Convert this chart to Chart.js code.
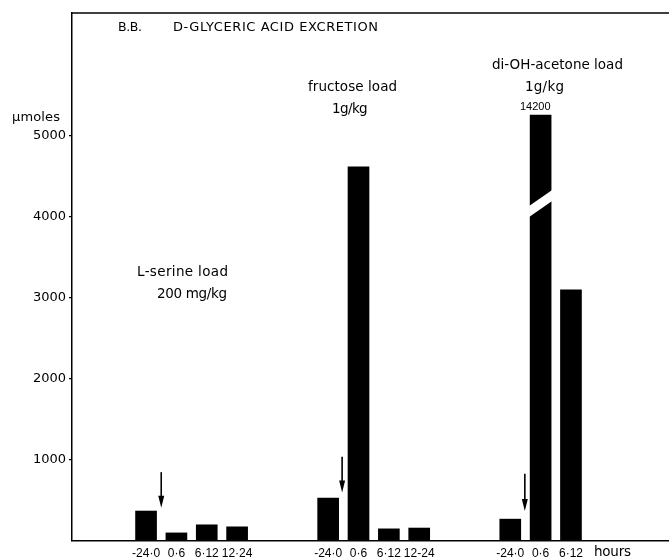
<!DOCTYPE html>
<html><head><meta charset="utf-8">
<script src="https://cdn.jsdelivr.net/npm/chart.js@4"></script>
<style>html,body{margin:0;padding:0;background:#fff}canvas{display:block}</style>
</head><body>
<canvas id="c" width="669" height="557"></canvas>
<script>
// ---- data ----
const periodLabels = ['-24·0','0·6','6·12','12·24','-24·0','0·6','6·12','12-24','-24·0','0·6','6·12'];
const slotPositions = [0,1,2,3,6,7,8,9,12,13,14];
const excretion = [370,100,200,175,530,4620,150,160,270,5260,3100];
const yTickValues = [1000,2000,3000,4000,5000];
const hoursLabel = 'hours';
const arrowSlots = [0.5,6.46,12.48];
const arrowTops = [850,1040,830];
const arrowTips = [410,600,370];
const brokenIndex = 9;
const brokenTrueValue = '14200';
const breakValue = 4100;

const FONT = '"DejaVu Sans", sans-serif';
const NUMFONT = '"Liberation Sans", sans-serif';

function fitText(ctx, txt, x, y, w, size, family) {
  ctx.font = size + 'px ' + (family || FONT);
  ctx.letterSpacing = '0px';
  const m = ctx.measureText(txt).width;
  let ls = (w - m) / Math.max(1, txt.length - 1);
  ls = Math.max(-0.6, Math.min(2.5, ls));
  ctx.letterSpacing = ls.toFixed(2) + 'px';
  ctx.textAlign = 'left';
  ctx.textBaseline = 'middle';
  ctx.fillStyle = '#000';
  ctx.fillText(txt, x, y);
  ctx.letterSpacing = '0px';
}

const decor = {
  id: 'decor',
  afterDatasetsDraw(chart) {
    const ctx = chart.ctx, xs = chart.scales.x, ys = chart.scales.y, ca = chart.chartArea;
    ctx.save();
    ctx.strokeStyle = '#000'; ctx.lineWidth = 1.5;
    ctx.beginPath(); ctx.moveTo(ca.left, ca.top); ctx.lineTo(ca.right, ca.top); ctx.stroke();
    const bar = chart.getDatasetMeta(0).data[brokenIndex];
    const bl = bar.x - bar.width / 2 - 1, br = bar.x + bar.width / 2 + 1;
    const yb = ys.getPixelForValue(breakValue);
    ctx.fillStyle = '#fff';
    ctx.beginPath();
    ctx.moveTo(bl, yb - 3); ctx.lineTo(br, yb - 19);
    ctx.lineTo(br, yb - 8); ctx.lineTo(bl, yb + 8);
    ctx.closePath(); ctx.fill();
    ctx.strokeStyle = '#000'; ctx.fillStyle = '#000'; ctx.lineWidth = 1.6;
    arrowSlots.forEach((s, i) => {
      const x = xs.getPixelForValue(s);
      const y0 = ys.getPixelForValue(arrowTops[i]);
      const y1 = ys.getPixelForValue(arrowTips[i]);
      ctx.beginPath(); ctx.moveTo(x, y0); ctx.lineTo(x, y1 - 10); ctx.stroke();
      ctx.beginPath(); ctx.moveTo(x - 3, y1 - 12); ctx.lineTo(x + 3, y1 - 12); ctx.lineTo(x, y1); ctx.closePath(); ctx.fill();
    });
    fitText(ctx, 'B.B.', 118, 28, 24, 12.5);
    fitText(ctx, 'D-GLYCERIC ACID EXCRETION', 173, 28, 205, 13);
    fitText(ctx, 'L-serine load', 137, 272, 91, 13.5);
    fitText(ctx, '200 mg/kg', 157, 294, 70, 13.5);
    fitText(ctx, 'fructose load', 308, 87, 89, 13.5);
    fitText(ctx, '1g/kg', 332, 109, 34, 13.5);
    fitText(ctx, 'di-OH-acetone load', 492, 65, 131, 13.5);
    fitText(ctx, '1g/kg', 525, 87, 39, 13.5);
    ctx.font = '11px ' + NUMFONT; ctx.textAlign = 'left'; ctx.textBaseline = 'middle'; ctx.fillStyle = '#000';
    ctx.fillText(brokenTrueValue, 520, 107);
    fitText(ctx, 'µmoles', 12, 118, 48, 13);
    fitText(ctx, hoursLabel, 594, 552, 37, 13.5);
    ctx.restore();
  }
};

new Chart(document.getElementById('c'), {
  type: 'bar',
  data: {
    datasets: [{
      data: slotPositions.map((s, i) => ({ x: s, y: excretion[i] })),
      backgroundColor: '#000',
      borderWidth: 0,
      barThickness: 21
    }]
  },
  options: {
    responsive: false,
    animation: false,
    devicePixelRatio: 1,
    layout: { padding: { top: 13, right: 0, left: 0, bottom: 0 } },
    plugins: { legend: { display: false }, tooltip: { enabled: false } },
    scales: {
      x: {
        type: 'linear',
        min: -2.44, max: 17.23,
        offset: false,
        afterBuildTicks: (s) => { s.ticks = slotPositions.map(v => ({ value: v })); },
        afterFit: (s) => { s.height = 16; },
        ticks: {
          autoSkip: false, maxRotation: 0, padding: 5,
          color: '#000', font: { family: NUMFONT, size: 12 },
          callback: (v) => { const i = slotPositions.indexOf(v); return i >= 0 ? periodLabels[i] : ''; }
        },
        grid: { display: true, drawOnChartArea: false, drawTicks: false },
        border: { display: true, color: '#000', width: 1.5 }
      },
      y: {
        type: 'linear',
        min: 0, max: 6519,
        afterBuildTicks: (s) => { s.ticks = yTickValues.map(v => ({ value: v })); },
        afterFit: (s) => { s.width = 72; },
        ticks: { color: '#000', padding: 3, font: { family: FONT, size: 13 }, callback: (v) => String(v) },
        grid: { display: true, drawOnChartArea: false, drawTicks: true, tickLength: 3, color: '#000', lineWidth: 1.2 },
        border: { display: true, color: '#000', width: 1.5 }
      }
    }
  },
  plugins: [decor]
});
</script>
</body></html>
